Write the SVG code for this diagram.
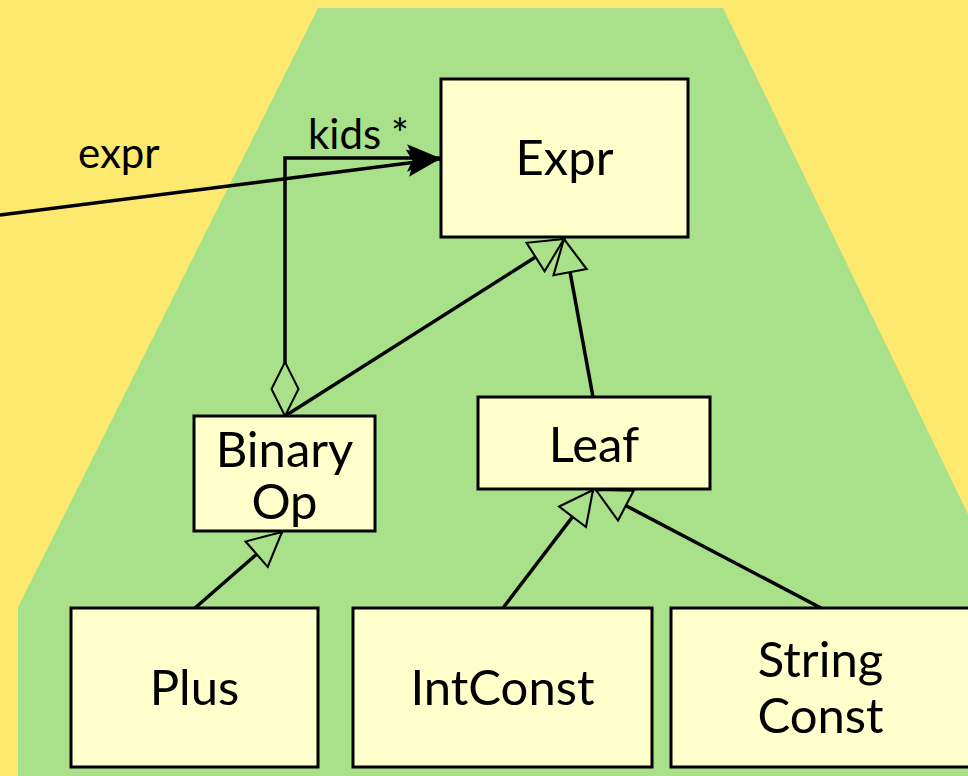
<svg xmlns="http://www.w3.org/2000/svg" width="968" height="776" viewBox="0 0 968 776">
<defs>
<style>
.box{fill:#ffffcc;stroke:#000;stroke-width:3}
.t{font-family:Lato,"Open Sans",sans-serif;font-size:49px;fill:#000;text-anchor:middle}
.lbl{font-family:Lato,"Open Sans",sans-serif;font-size:42px;fill:#000}
.c{fill:none;stroke:#000;stroke-width:3.5}
</style>
<marker id="filled" markerUnits="userSpaceOnUse" markerWidth="34" markerHeight="28" viewBox="0 0 32 26" refX="31" refY="13" orient="auto">
<path d="M0,0 L31,13 L0,26 L6,13 Z" fill="#000"/>
</marker>
<marker id="gen" markerUnits="userSpaceOnUse" markerWidth="40" markerHeight="40" viewBox="-2 -18 38 36" refX="33" refY="0" orient="auto">
<path d="M33,0 L1,-16 L1,16 Z" fill="#a9e18b" stroke="#000" stroke-width="2"/>
</marker>
<marker id="dia" markerUnits="userSpaceOnUse" markerWidth="60" markerHeight="32" viewBox="-2 -16 60 32" refX="0" refY="0" orient="auto">
<path d="M0,0 L27,-13.5 L54,0 L27,13.5 Z" fill="#a9e18b" stroke="#000" stroke-width="2"/>
</marker>
</defs>
<rect width="968" height="776" fill="#fee96f"/>
<polygon points="318,8 723,8 968,514 968,776 18,776 18,607" fill="#a9e18b"/>
<g id="connectors">
<path class="c" d="M285,416 L285,158 L440,158" marker-start="url(#dia)" marker-end="url(#filled)"/>
<path class="c" d="M0,215 L440,159" marker-end="url(#filled)"/>
<path class="c" d="M285,416 L564,239" marker-end="url(#gen)"/>
<path class="c" d="M593,397 L564,239" marker-end="url(#gen)"/>
<path class="c" d="M195,608 L282,532" marker-end="url(#gen)"/>
<path class="c" d="M503,608 L593,490" marker-end="url(#gen)"/>
<path class="c" d="M821,608 L596,490" marker-end="url(#gen)"/>
<text class="lbl" x="308" y="149">kids</text>
<text class="lbl" x="391" y="149">*</text>
<text class="lbl" x="78" y="168">expr</text>
</g>
<g id="Expr">
<rect class="box" x="441" y="79" width="247" height="158"/>
<text class="t" x="564.5" y="175">Expr</text>
</g>
<g id="BinaryOp">
<rect class="box" x="194" y="416" width="181" height="115"/>
<text class="t" x="284.5" y="467">Binary</text>
<text class="t" x="284.5" y="519">Op</text>
</g>
<g id="Leaf">
<rect class="box" x="478" y="397" width="232" height="92"/>
<text class="t" x="594" y="462">Leaf</text>
</g>
<g id="Plus">
<rect class="box" x="71" y="608" width="247" height="159"/>
<text class="t" x="194.5" y="705">Plus</text>
</g>
<g id="IntConst">
<rect class="box" x="353" y="608" width="299" height="159"/>
<text class="t" x="502.5" y="705">IntConst</text>
</g>
<g id="StringConst">
<rect class="box" x="671" y="608" width="299" height="159"/>
<text class="t" x="820.5" y="677">String</text>
<text class="t" x="820.5" y="733">Const</text>
</g>
</svg>
